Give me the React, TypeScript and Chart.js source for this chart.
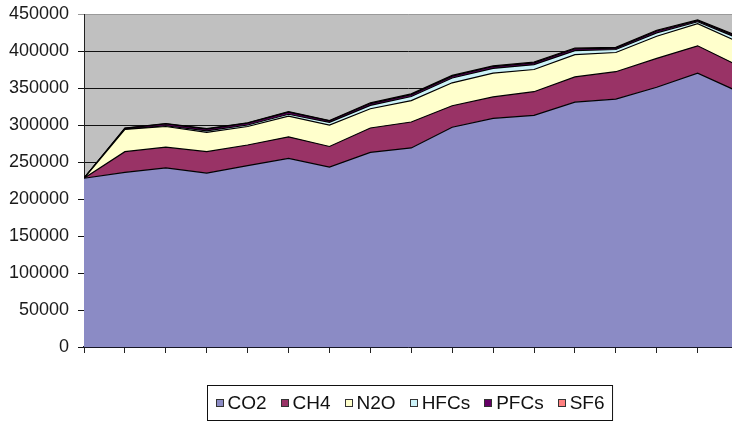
import { useEffect, useRef } from 'react';
import { Chart, registerables } from 'chart.js';

Chart.register(...registerables);

// 17 yearly points along the x axis (no labels are printed on the axis)
const periods = [0, 1, 2, 3, 4, 5, 6, 7, 8, 9, 10, 11, 12, 13, 14, 15, 16];

const seriesNames = ['CO2', 'CH4', 'N2O', 'HFCs', 'PFCs', 'SF6'];
const seriesColors = ['#8b8bc5', '#993366', '#ffffcc', '#ccf2f8', '#660066', '#ff8080'];

const co2 = [228000, 236000, 242000, 235000, 245000, 255000, 243000, 263000, 269000, 297000, 309000, 313000, 331000, 335000, 351000, 370000, 345000];
const ch4 = [0, 28000, 28000, 29000, 28000, 29000, 28000, 33000, 35000, 29000, 29000, 32000, 34000, 37000, 39000, 37000, 35000];
const n2o = [0, 30000, 28000, 26000, 25000, 28000, 29000, 26000, 29000, 31000, 32000, 30000, 30000, 26000, 30000, 30000, 32000];
const hfcs = [0, 0, 1000, 2000, 2000, 2500, 3500, 4500, 5500, 6500, 6500, 6500, 5500, 4000, 4500, 2500, 5000];
const pfcs = [0, 1500, 2500, 2500, 2500, 3000, 2000, 2500, 2500, 2500, 2500, 2500, 2500, 2000, 2500, 1500, 2000];
const sf6 = [0, 500, 500, 500, 500, 500, 500, 1000, 1000, 1000, 1000, 1000, 1000, 1000, 1000, 1000, 1000];

const yTicks = [0, 50000, 100000, 150000, 200000, 250000, 300000, 350000, 400000, 450000];

const FONT = "'Liberation Sans', Arial, sans-serif";

const plotBg = {
  id: 'plotBg',
  beforeDraw(chart: any) {
    const { ctx, chartArea } = chart;
    ctx.save();
    ctx.fillStyle = '#c0c0c0';
    ctx.fillRect(chartArea.left, chartArea.top, chartArea.right - chartArea.left, chartArea.bottom - chartArea.top);
    ctx.restore();
  },
};

const boxLegend = {
  id: 'boxLegend',
  afterDraw(chart: any) {
    const { ctx, chartArea } = chart;
    const ds = chart.data.datasets;
    ctx.save();
    ctx.font = `19px ${FONT}`;
    const marker = 8;
    const gapIn = 4;
    const gapOut = 14;
    const widths = ds.map((d: any) => marker + gapIn + ctx.measureText(d.label).width);
    const content = widths.reduce((a: number, b: number) => a + b, 0) + gapOut * (ds.length - 1);
    const padX = 8;
    const boxW = content + padX * 2;
    const cx = (chartArea.left + chartArea.right) / 2 + 2;
    const boxL = Math.round(cx - boxW / 2) + 0.5;
    const boxT = 385.5;
    const boxH = 35;
    ctx.strokeStyle = '#111';
    ctx.lineWidth = 1;
    ctx.strokeRect(boxL, boxT, boxW, boxH);
    let x = boxL + padX;
    const midY = boxT + boxH / 2;
    ds.forEach((d: any, i: number) => {
      ctx.fillStyle = d.backgroundColor;
      ctx.fillRect(Math.round(x), Math.round(midY - marker / 2), marker, marker);
      ctx.strokeStyle = '#333';
      ctx.strokeRect(Math.round(x) + 0.5, Math.round(midY - marker / 2) + 0.5, marker - 1, marker - 1);
      ctx.fillStyle = '#111';
      ctx.textBaseline = 'middle';
      ctx.textAlign = 'left';
      ctx.fillText(d.label, x + marker + gapIn, midY + 1);
      x += widths[i] + gapOut;
    });
    ctx.restore();
  },
};

export default function App() {
  const ref = useRef<HTMLCanvasElement | null>(null);

  useEffect(() => {
    if (!ref.current) return;
    const values = [co2, ch4, n2o, hfcs, pfcs, sf6];
    const chart = new Chart(ref.current, {
      type: 'line',
      data: {
        datasets: seriesNames.map((name, i) => ({
          label: name,
          data: periods.map((p, j) => ({ x: p, y: values[i][j] })),
          backgroundColor: seriesColors[i],
          borderColor: '#000',
          borderWidth: 1.2,
          pointRadius: 0,
          tension: 0,
          fill: i === 0 ? 'origin' : '-1',
        })),
      },
      options: {
        animation: false,
        responsive: false,
        maintainAspectRatio: false,
        layout: { padding: { top: 14, right: 0, bottom: 72, left: 0 } },
        plugins: {
          legend: { display: false },
          tooltip: { enabled: false },
        },
        scales: {
          x: {
            type: 'linear',
            min: 0,
            max: 15.84,
            ticks: { display: false, stepSize: 1, includeBounds: false },
            afterBuildTicks: (axis: any) => {
              axis.ticks = periods.filter((p) => p <= 15.84).map((p) => ({ value: p }));
            },
            grid: { display: true, drawOnChartArea: false, drawTicks: true, tickLength: 6, color: '#222', lineWidth: 1 },
            border: { display: true, color: '#1c1c3a', width: 1.5 },
          },
          y: {
            stacked: true,
            min: 0,
            max: 450000,
            afterBuildTicks: (axis: any) => {
              axis.ticks = yTicks.map((v) => ({ value: v }));
            },
            afterFit: (scale: any) => {
              scale.width = 84;
              scale.paddingTop = 0;
              scale.paddingBottom = 0;
            },
            ticks: {
              padding: 9,
              color: '#1a1a1a',
              font: { family: FONT, size: 18 },
              callback: (v: any) => String(v),
            },
            grid: {
              tickLength: 6,
              lineWidth: 1,
              color: (c: any) => (c.tick && c.tick.value === 450000 ? '#9a9a9a' : '#111'),
            },
            border: { display: true, color: '#222', width: 1 },
          },
        },
      },
      plugins: [plotBg, boxLegend],
    });
    return () => chart.destroy();
  }, []);

  return (
    <div style={{ position: 'absolute', left: 0, top: 0, width: 732, height: 425, background: '#fff' }}>
      <canvas ref={ref} width={732} height={425} style={{ display: 'block' }} />
    </div>
  );
}
